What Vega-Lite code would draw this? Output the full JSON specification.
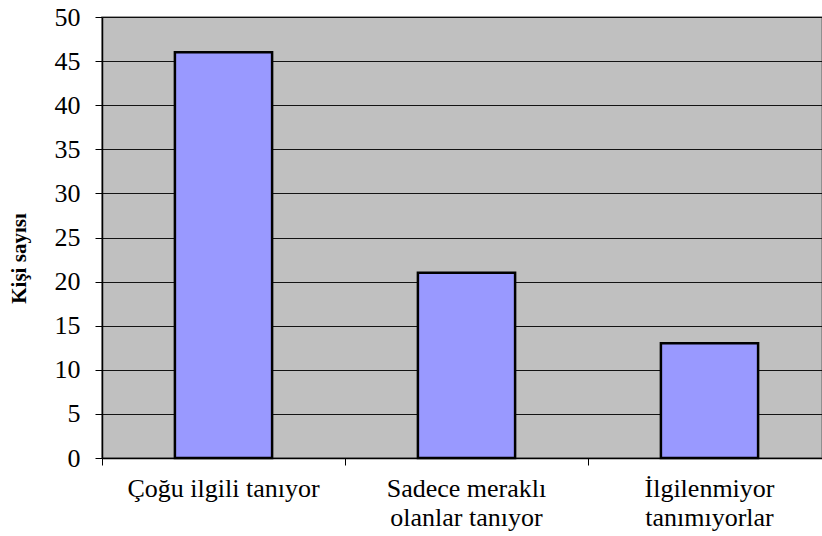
{
  "$schema": "https://vega.github.io/schema/vega-lite/v6.json",
  "autosize": "none",
  "width": 720,
  "height": 441,
  "padding": {"left": 102, "top": 17, "right": 0, "bottom": 78},
  "background": "white",
  "config": {
    "view": {"fill": "#c0c0c0", "stroke": "#808080", "strokeWidth": 1.5},
    "font": "'Times New Roman', 'Liberation Serif', serif"
  },
  "data": {
    "values": [
      {"kategori": "Çoğu ilgili tanıyor", "kisi": 46},
      {"kategori": "Sadece meraklı|olanlar tanıyor", "kisi": 21},
      {"kategori": "İlgilenmiyor|tanımıyorlar", "kisi": 13}
    ]
  },
  "mark": {"type": "bar", "fill": "#9999ff", "stroke": "#000000", "strokeWidth": 2.5, "width": {"band": 0.4}},
  "encoding": {
    "x": {
      "field": "kategori",
      "type": "nominal",
      "sort": null,
      "scale": {"range": [0, 729], "paddingInner": 0, "paddingOuter": 0},
      "axis": {
        "title": null,
        "labelAngle": 0,
        "bandPosition": 0,
        "labelExpr": "split(datum.label, '|')",
        "labelFont": "'Times New Roman', 'Liberation Serif', serif",
        "labelFontSize": 26,
        "labelColor": "#000000",
        "labelLineHeight": 29,
        "labelPadding": 10,
        "labelBaseline": "top",
        "labelAlign": "center",
        "tickColor": "#000000",
        "tickSize": 7,
        "tickWidth": 1,
        "domainColor": "#000000",
        "domainWidth": 1.5,
        "grid": false,
        "labelLimit": 400
      }
    },
    "y": {
      "field": "kisi",
      "type": "quantitative",
      "scale": {"domain": [0, 50], "nice": false},
      "axis": {
        "title": "Kişi sayısı",
        "titleFont": "'Times New Roman', 'Liberation Serif', serif",
        "titleFontSize": 21,
        "titleFontWeight": "bold",
        "titleColor": "#000000",
        "titleX": -83,
        "titleY": 241,
        "titleAngle": -90,
        "titleAlign": "center",
        "titleBaseline": "middle",
        "values": [0, 5, 10, 15, 20, 25, 30, 35, 40, 45, 50],
        "labelFont": "'Times New Roman', 'Liberation Serif', serif",
        "labelFontSize": 26,
        "labelColor": "#000000",
        "labelPadding": 15,
        "tickColor": "#000000",
        "tickSize": 7,
        "tickWidth": 1,
        "domainColor": "#000000",
        "domainWidth": 1.5,
        "grid": true,
        "gridColor": "#000000",
        "gridWidth": 1,
        "gridOpacity": 0.9
      }
    }
  }
}
